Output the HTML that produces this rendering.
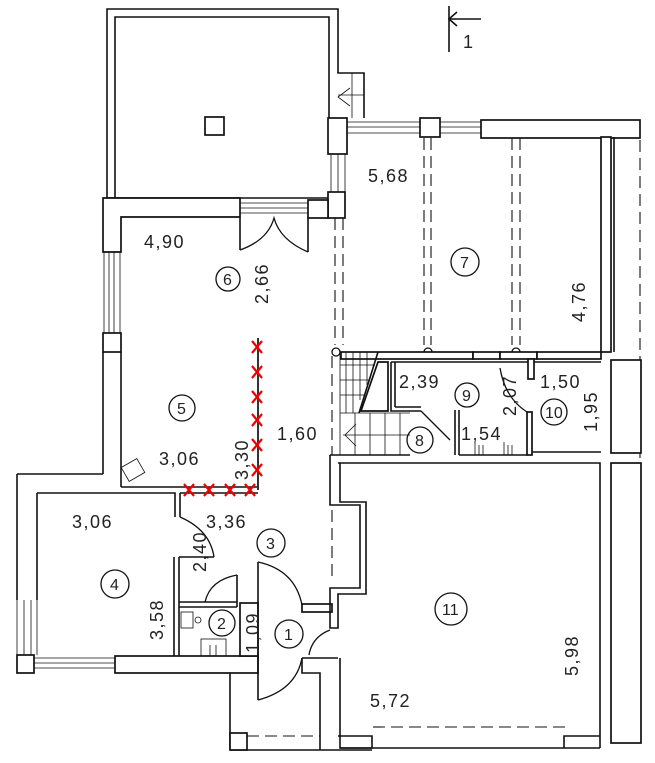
<!DOCTYPE html>
<html><head><meta charset="utf-8"><style>
html,body{margin:0;padding:0;background:#fff;}
svg{display:block;}
text{font-family:"Liberation Sans",sans-serif;font-size:18px;fill:#222;letter-spacing:1.5px;}
.c{fill:none;stroke:#111;stroke-width:1.3;}
.w{fill:#fff;stroke:#111;stroke-width:1.7;}
.l{stroke:#111;stroke-width:1.6;fill:none;}
.t{stroke:#111;stroke-width:0.8;fill:none;}
.d{stroke:#111;stroke-width:1.1;fill:none;stroke-dasharray:12,6;}
.x{stroke:#e00;stroke-width:2.2;}
.n{font-size:16px;letter-spacing:0;}
</style></head><body>
<svg width="655" height="763" viewBox="0 0 655 763" xmlns="http://www.w3.org/2000/svg">
<!-- section mark -->
<line class="l" x1="449" y1="6" x2="449" y2="52"/>
<line class="l" x1="449" y1="19" x2="481" y2="19"/>
<polyline class="l" points="457,12 449,19 457,26"/>
<text x="463" y="48" font-size="15">1</text>

<!-- terrace -->
<polyline class="l" points="107,198 107,9 338,9 338,73 364,73 364,118"/>
<polyline class="l" points="115,198 115,17 329,17 329,118"/>
<line class="t" x1="338" y1="95" x2="364" y2="95"/>
<line class="t" x1="352" y1="73" x2="352" y2="118"/>
<polyline class="t" points="350,88 338,97 350,106"/>
<rect class="w" x="205" y="117" width="19" height="18"/>
<line class="l" x1="107" y1="198" x2="328" y2="198"/>

<!-- top wall room 7 -->
<rect class="w" x="328" y="118" width="19" height="36"/>
<rect class="w" x="420" y="118" width="20" height="19"/>
<rect class="w" x="481" y="120" width="159" height="18"/>
<line class="t" x1="347" y1="122" x2="420" y2="122"/><line class="t" x1="347" y1="127" x2="420" y2="127"/><line class="t" x1="347" y1="133" x2="420" y2="133"/>
<line class="t" x1="440" y1="122" x2="481" y2="122"/><line class="t" x1="440" y1="127" x2="481" y2="127"/><line class="t" x1="440" y1="133" x2="481" y2="133"/>
<line class="t" x1="331" y1="154" x2="331" y2="192"/><line class="t" x1="338" y1="154" x2="338" y2="192"/><line class="t" x1="345" y1="154" x2="345" y2="192"/>
<rect class="w" x="328" y="192" width="17" height="26"/>
<rect class="w" x="308" y="200" width="20" height="18"/>

<!-- room 5/6 top wall -->
<polygon class="w" points="103,198 240,198 240,217 121,217 121,252 103,252"/>
<line class="t" x1="240" y1="203" x2="308" y2="203"/><line class="t" x1="240" y1="208" x2="308" y2="208"/><line class="t" x1="240" y1="213" x2="308" y2="213"/>
<line class="l" x1="240" y1="217" x2="240" y2="250"/>
<line class="l" x1="308" y1="217" x2="308" y2="252"/>
<path class="c" d="M240,250 Q268,240 274,218 Q280,240 308,252"/>
<!-- left windows -->
<line class="t" x1="104" y1="252" x2="104" y2="333"/><line class="t" x1="109" y1="252" x2="109" y2="333"/><line class="t" x1="114" y1="252" x2="114" y2="333"/><line class="t" x1="120" y1="252" x2="120" y2="333"/>
<rect class="w" x="103" y="333" width="18" height="19"/>
<line class="l" x1="103" y1="352" x2="103" y2="474"/>
<line class="l" x1="121" y1="352" x2="121" y2="487"/>

<!-- room 7 -->
<rect class="w" x="601" y="137" width="10" height="215"/>
<line class="l" x1="614" y1="137" x2="614" y2="352"/>
<line class="d" x1="640" y1="140" x2="640" y2="740"/>
<line class="d" x1="335" y1="218" x2="335" y2="345"/>
<line class="d" x1="343" y1="218" x2="343" y2="345"/>
<line class="d" x1="424" y1="138" x2="424" y2="345"/>
<line class="d" x1="431" y1="138" x2="431" y2="345"/>
<line class="d" x1="512" y1="138" x2="512" y2="345"/>
<line class="d" x1="520" y1="138" x2="520" y2="345"/>
<rect class="w" x="341" y="352" width="132" height="7"/>
<rect class="w" x="473" y="352" width="27" height="7"/>
<rect class="w" x="500" y="352" width="37" height="7"/>
<rect class="w" x="537" y="352" width="64" height="7"/>
<path class="c" d="M424,352 a4,4 0 0 1 8,0"/>
<path class="c" d="M512,352 a4,4 0 0 1 8,0"/>
<circle class="c" cx="336" cy="352" r="4"/>
<line class="d" x1="332" y1="356" x2="332" y2="455"/>
<rect class="w" x="611" y="360" width="30" height="93"/>
<rect class="w" x="611" y="463" width="30" height="280"/>

<!-- stairs -->
<line class="t" x1="340" y1="352" x2="340" y2="455"/>
<line class="t" x1="346" y1="352" x2="346" y2="413"/><line class="t" x1="353" y1="352" x2="353" y2="413"/><line class="t" x1="360" y1="352" x2="360" y2="400"/><line class="t" x1="367" y1="352" x2="367" y2="385"/>
<line class="t" x1="340" y1="365" x2="375" y2="365"/><line class="t" x1="340" y1="380" x2="370" y2="380"/><line class="t" x1="340" y1="395" x2="365" y2="395"/>
<line class="l" x1="378" y1="352" x2="359" y2="413"/>
<polygon class="w" points="361,411 388,411 388,362 378,362"/>
<line class="t" x1="340" y1="413" x2="410" y2="413"/>
<line class="t" x1="355" y1="413" x2="355" y2="455"/><line class="t" x1="370" y1="413" x2="370" y2="455"/><line class="t" x1="385" y1="413" x2="385" y2="455"/><line class="t" x1="400" y1="413" x2="400" y2="455"/>
<line class="t" x1="343" y1="435" x2="410" y2="435"/>
<polyline class="t" points="356,424 345,435 356,446"/>
<line class="l" x1="330" y1="455" x2="410" y2="455"/>

<!-- rooms 8/9/10 -->
<line class="l" x1="391" y1="362" x2="528" y2="362"/>
<line class="l" x1="534" y1="362" x2="601" y2="362"/>
<polyline class="l" points="391,362 391,411 421,411"/>
<line class="l" x1="395" y1="362" x2="395" y2="407"/>
<line class="l" x1="395" y1="407" x2="421" y2="407"/>
<line class="l" x1="455" y1="410" x2="455" y2="455"/>
<line class="l" x1="459" y1="410" x2="459" y2="455"/>
<path class="c" d="M421,411 Q440,430 450,440"/>
<line class="l" x1="459" y1="455" x2="527" y2="455"/>
<rect class="w" x="527" y="412" width="5" height="43"/>
<line class="l" x1="532" y1="452" x2="601" y2="452"/>
<rect class="w" x="528" y="359" width="6" height="20"/>
<path class="c" d="M500,368 Q505,398 527,412"/>
<line class="t" x1="475" y1="455" x2="475" y2="442"/><line class="t" x1="479" y1="455" x2="479" y2="445"/><line class="t" x1="483" y1="455" x2="483" y2="445"/>
<line class="t" x1="504" y1="455" x2="504" y2="442"/><line class="t" x1="508" y1="455" x2="508" y2="445"/><line class="t" x1="512" y1="455" x2="512" y2="445"/>

<!-- room 5 bottom / room 4 -->
<line class="l" x1="121" y1="487" x2="258" y2="487"/>
<polyline class="l" points="17,474 103,474"/>
<polyline class="l" points="17,474 17,600"/>
<polyline class="l" points="37,493 175,493 175,517"/>
<line class="l" x1="180" y1="493" x2="258" y2="493"/>
<line class="l" x1="180" y1="493" x2="180" y2="517"/>
<line class="l" x1="37" y1="493" x2="37" y2="600"/>
<path class="c" d="M180,517 Q210,530 214,557"/>
<polyline class="l" points="174,557 174,656"/>
<polyline class="l" points="179,557 214,557"/>
<line class="l" x1="179" y1="557" x2="179" y2="656"/>
<line class="t" x1="17" y1="600" x2="17" y2="655"/><line class="t" x1="24" y1="600" x2="24" y2="655"/><line class="t" x1="31" y1="600" x2="31" y2="655"/><line class="t" x1="37" y1="600" x2="37" y2="655"/>
<rect class="w" x="17" y="655" width="17" height="18"/>
<line class="t" x1="34" y1="658" x2="115" y2="658"/><line class="t" x1="34" y1="663" x2="115" y2="663"/><line class="t" x1="34" y1="668" x2="115" y2="668"/>
<rect class="w" x="115" y="656" width="143" height="17"/>
<!-- wc -->
<line class="l" x1="179" y1="602" x2="237" y2="602"/>
<line class="l" x1="179" y1="607" x2="237" y2="607"/>
<line class="l" x1="237" y1="575" x2="237" y2="607"/>
<path class="c" d="M237,575 Q210,580 205,602"/>
<rect class="t" x="181" y="612" width="12" height="16"/>
<circle class="t" cx="198" cy="620" r="3"/>
<rect class="t" x="201" y="639" width="25" height="17"/>
<line class="t" x1="210" y1="656" x2="210" y2="645"/><line class="t" x1="216" y1="656" x2="216" y2="645"/>
<rect class="w" x="240" y="603" width="18" height="53"/>
<rect class="t" x="124" y="462" width="18" height="16" transform="rotate(-30 133 470)"/>

<!-- entrance -->
<line class="l" x1="258" y1="562" x2="258" y2="700"/>
<path class="c" d="M258,562 Q295,570 302,605"/>
<path class="c" d="M258,700 Q296,690 302,658"/>
<rect class="w" x="302" y="604" width="30" height="8"/>
<path class="c" d="M309,655 Q312,637 330,630"/>
<polyline class="l" points="302,658 338,658"/>
<polyline class="l" points="302,658 302,673 320,673 320,750"/>
<line class="l" x1="230" y1="673" x2="230" y2="750"/>
<line class="l" x1="230" y1="750" x2="372" y2="750"/>
<rect class="w" x="230" y="733" width="17" height="17"/>
<line class="d" x1="247" y1="736" x2="320" y2="736"/>

<!-- hallway right wall / room 11 -->
<polyline class="l" points="330,455 330,505 360,505 360,588 330,588 330,604"/>
<polyline class="l" points="340,463 340,502 366,502 366,594 338,594 338,628 330,628 330,604"/>
<line class="d" x1="332" y1="510" x2="332" y2="580"/>
<polyline class="l" points="338,463 600,463 600,748"/>
<polyline class="l" points="340,658 340,748 372,748 372,736 338,736"/>
<polyline class="l" points="564,748 564,736 600,736"/>
<line class="l" x1="340" y1="748" x2="600" y2="748"/>
<line class="d" x1="373" y1="727" x2="565" y2="727"/>

<!-- labels -->
<text x="368" y="182">5,68</text>
<text x="144" y="248">4,90</text>
<circle class="c" cx="228" cy="279" r="12"/><text class="n" x="223" y="285">6</text>
<text transform="translate(268,304) rotate(-90)">2,66</text>
<circle class="c" cx="465" cy="262" r="14"/><text class="n" x="460" y="268">7</text>
<text transform="translate(585,322) rotate(-90)">4,76</text>
<text x="399" y="388">2,39</text>
<circle class="c" cx="467" cy="395" r="12"/><text class="n" x="462" y="401">9</text>
<text transform="translate(516,416) rotate(-90)">2,07</text>
<text x="540" y="388">1,50</text>
<circle class="c" cx="554" cy="412" r="13"/><text class="n" x="545" y="418">10</text>
<text transform="translate(597,432) rotate(-90)">1,95</text>
<circle class="c" cx="420" cy="440" r="13"/><text class="n" x="415" y="446">8</text>
<text x="461" y="440">1,54</text>
<circle class="c" cx="182" cy="408" r="13"/><text class="n" x="177" y="414">5</text>
<text x="159" y="465">3,06</text>
<text transform="translate(248,480) rotate(-90)">3,30</text>
<text x="277" y="440">1,60</text>
<text x="72" y="528">3,06</text>
<text x="206" y="528">3,36</text>
<circle class="c" cx="271" cy="543" r="14"/><text class="n" x="266" y="549">3</text>
<text transform="translate(206,572) rotate(-90)">2,40</text>
<circle class="c" cx="115" cy="584" r="14"/><text class="n" x="110" y="590">4</text>
<text transform="translate(163,640) rotate(-90)">3,58</text>
<circle class="c" cx="222" cy="623" r="13"/><text class="n" x="217" y="629">2</text>
<text transform="translate(259,653) rotate(-90)">1,09</text>
<circle class="c" cx="289" cy="634" r="14"/><text class="n" x="284" y="640">1</text>
<circle class="c" cx="451" cy="609" r="16"/><text class="n" x="442" y="615">11</text>
<text transform="translate(578,676) rotate(-90)">5,98</text>
<text x="370" y="707">5,72</text>

<!-- red marks -->
<line x1="258" y1="338" x2="258" y2="490" stroke="#333" stroke-width="2"/>
<g class="x">
<path d="M252,341 l10,12 M262,341 l-10,12"/>
<path d="M252,366 l10,12 M262,366 l-10,12"/>
<path d="M252,391 l10,12 M262,391 l-10,12"/>
<path d="M252,414 l10,12 M262,414 l-10,12"/>
<path d="M252,439 l10,12 M262,439 l-10,12"/>
<path d="M252,464 l10,12 M262,464 l-10,12"/>
<path d="M184,484 l10,12 M194,484 l-10,12"/>
<path d="M204,484 l10,12 M214,484 l-10,12"/>
<path d="M225,484 l10,12 M235,484 l-10,12"/>
<path d="M245,484 l10,12 M255,484 l-10,12"/>
</g>
</svg>
</body></html>
